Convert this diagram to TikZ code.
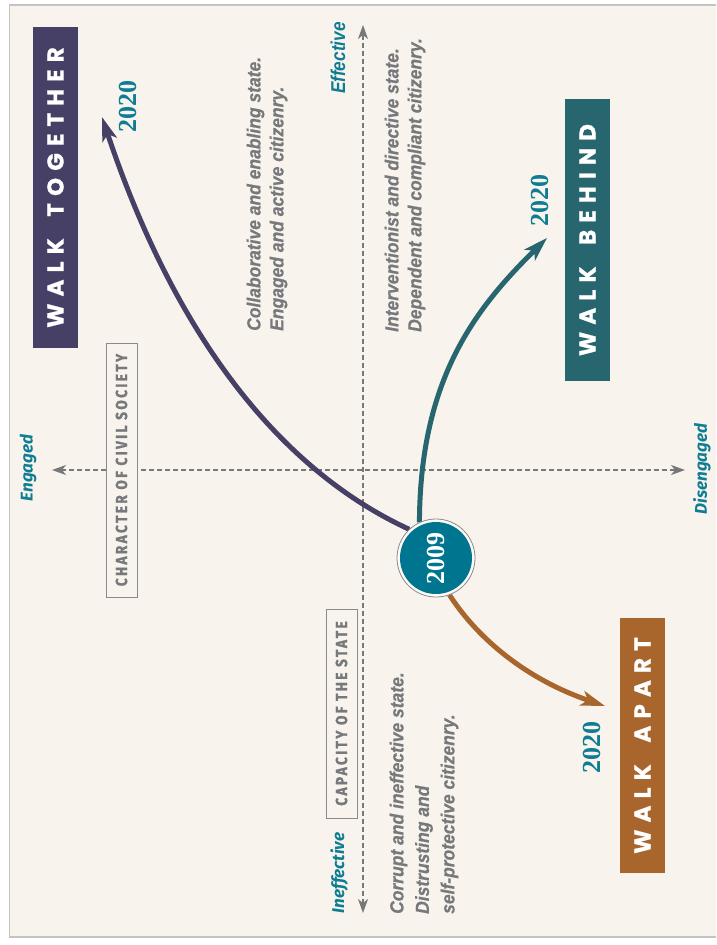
\documentclass[tikz,border=0pt]{standalone}
\usepackage{fontspec}
\setmainfont{Liberation Serif}
\newfontfamily\descfont[FakeStretch=0.92,FakeBold=0.6]{Liberation Sans}
\newfontfamily\labelfont[FakeStretch=0.86]{Liberation Sans}
\newfontfamily\axisfont{Fira Sans}
\newfontfamily\walkfont[LetterSpace=31,WordSpace=1.8,FakeBold=0.8]{Poppins}
\newfontfamily\headfont[FakeStretch=0.85,LetterSpace=15,FakeBold=1.2]{Fira Sans}
\usetikzlibrary{arrows.meta}

\definecolor{paper}{HTML}{F8F4ED}
\definecolor{framegray}{HTML}{C4C4C4}
\definecolor{togetherpurple}{HTML}{463F66}
\definecolor{behindteal}{HTML}{27656F}
\definecolor{apartbrown}{HTML}{A8652C}
\definecolor{ballteal}{HTML}{00758F}
\definecolor{labelteal}{HTML}{0E7C93}
\definecolor{descgray}{HTML}{77787B}
\definecolor{axisgray}{HTML}{77787A}
\definecolor{boxgray}{HTML}{8A8A8A}

\begin{document}
\begin{tikzpicture}[x=1pt,y=-1pt,
  axis/.style={axisgray,line width=1.3pt,dash pattern=on 5pt off 3pt,
    {Stealth[length=14pt,width=10pt,inset=4pt]}-{Stealth[length=14pt,width=10pt,inset=4pt]}},
  path2020/.style={line width=5pt,-{Stealth[length=24pt,width=15pt,inset=6pt]}},
  walkbox/.style={rotate=90,text=white,minimum height=45pt,inner sep=0pt,
    font=\walkfont\bfseries\fontsize{23}{23}\selectfont},
  headbox/.style={rotate=90,draw=boxgray,line width=1pt,fill=paper,text=descgray,
    minimum height=31pt,inner sep=0pt,font=\headfont\bfseries\fontsize{16}{16}\selectfont},
  desc/.style={rotate=90,anchor=west,align=left,inner sep=0pt,text=descgray,
    font=\descfont\bfseries\itshape\fontsize{19}{23}\selectfont},
  axislabel/.style={rotate=90,inner sep=0pt,text=labelteal,
    font=\axisfont\bfseries\itshape\fontsize{17}{17}\selectfont},
  year/.style={rotate=90,inner sep=0pt,text=labelteal,
    font=\bfseries\fontsize{26}{26}\selectfont}]

  \clip (0,0) rectangle (716,945);
  \fill[white] (0,0) rectangle (716,945);
  \filldraw[fill=paper,draw=framegray,line width=1.5pt] (9.5,5) rectangle (730,937);

  %% axes
  \coordinate (effTip) at (363,25);
  \coordinate (ineffTip) at (363,913);
  \coordinate (engTip) at (52,470);
  \coordinate (disTip) at (685,470);
  \draw[axis] (ineffTip) -- (effTip);
  \draw[axis] (engTip) -- (disTip);

  \node[axislabel,font=\labelfont\bfseries\itshape\fontsize{20}{20}\selectfont] (effective) at (338,58) {Effective};
  \node[axislabel] (ineffective) at (339,873) {Ineffective};
  \node[axislabel] (engaged) at (28,468) {Engaged};
  \node[axislabel] (disengaged) at (702,469) {Disengaged};

  \node[headbox,minimum width=254pt] (civil) at (121.5,470) {CHARACTER OF CIVIL SOCIETY};
  \node[headbox,minimum width=209pt] (capacity) at (341.5,713.5) {CAPACITY OF THE STATE};

  %% quadrant texts
  \node[desc] (collab) at (267,331) {Collaborative and enabling state.\\Engaged and active citizenry.};
  \node[desc] (interv) at (405,332) {Interventionist and directive state.\\Dependent and compliant citizenry.};
  \node[desc,font=\descfont\bfseries\itshape\fontsize{19}{25.5}\selectfont] (corrupt) at (424,914)
    {Corrupt and ineffective state.\\Distrusting and\\self-protective citizenry.};

  %% scenario boxes
  \node[walkbox,fill=togetherpurple,minimum width=321pt] (together) at (55.5,187.5) {WALK TOGETHER};
  \node[walkbox,fill=behindteal,minimum width=282pt] (behind) at (587.5,240) {WALK BEHIND};
  \node[walkbox,fill=apartbrown,minimum width=255pt] (apart) at (642.5,745.5) {WALK APART};

  \node[year] (yTogether) at (128,106) {2020};
  \node[year] (yBehind) at (540,200) {2020};
  \node[year] (yApart) at (592,747) {2020};

  %% paths from 2009
  \node[circle,inner sep=0pt,minimum size=78pt] (ring2009) at (436,558) {};
  \coordinate (togetherEnd) at (102,117);
  \coordinate (behindEnd) at (547,238);
  \coordinate (apartEnd) at (605,706);
  \draw[path2020,togetherpurple] (ring2009.133) .. controls (276,468) and (173,330) .. (togetherEnd);
  \draw[path2020,behindteal] (ring2009.115) .. controls (420,378) and (476,308) .. (behindEnd);
  \draw[path2020,apartbrown] (ring2009.-70) .. controls (482,645) and (534,682) .. (apartEnd);

  \node[circle,draw=boxgray,line width=0.8pt,fill=paper!40!white,minimum size=78pt] at (ring2009) {};
  \node[circle,fill=ballteal,inner sep=0pt,minimum size=72pt,text=white,rotate=90,
    font=\bfseries\fontsize{26}{26}\selectfont] (y2009) at (ring2009) {2009};

\end{tikzpicture}
\end{document}
